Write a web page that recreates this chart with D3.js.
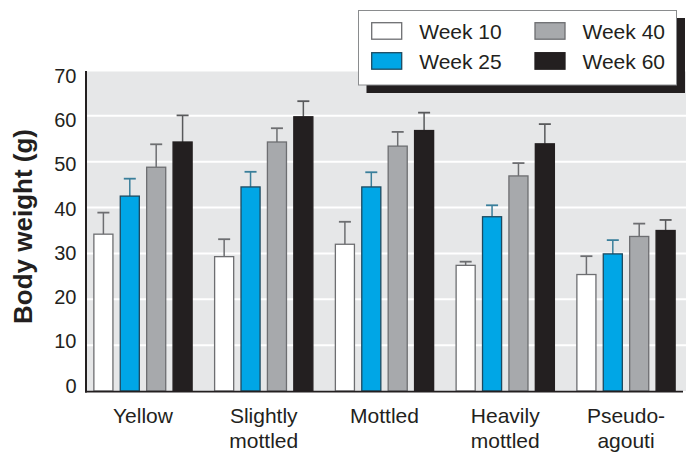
<!DOCTYPE html>
<html>
<head>
<meta charset="utf-8">
<script src="https://cdn.jsdelivr.net/npm/d3@7/dist/d3.min.js"></script>
<style>
  html, body { margin: 0; padding: 0; background: #ffffff; }
  svg { display: block; }
  text { font-family: "Liberation Sans", Arial, sans-serif; fill: #231f20; }
</style>
</head>
<body>
<svg id="chart" width="699" height="457"></svg>
<script>
// ---- Data ----
const categories = ["Yellow", "Slightly mottled", "Mottled", "Heavily mottled", "Pseudo-agouti"];
const categoryLines = [["Yellow"], ["Slightly", "mottled"], ["Mottled"], ["Heavily", "mottled"], ["Pseudo-", "agouti"]];
const seriesNames = ["Week 10", "Week 25", "Week 40", "Week 60"];
const week10 = [34.2, 29.3, 32.0, 27.4, 25.4];
const week25 = [42.5, 44.5, 44.5, 38.0, 29.9];
const week40 = [48.8, 54.3, 53.4, 46.9, 33.7];
const week60 = [54.3, 59.8, 56.8, 53.9, 35.0];
const err10 = [4.7, 3.8, 4.9, 0.8, 4.0];
const err25 = [3.8, 3.3, 3.2, 2.5, 3.0];
const err40 = [5.0, 3.0, 3.1, 2.8, 2.8];
const err60 = [5.8, 3.4, 3.9, 4.3, 2.3];
const yTicks = [0, 10, 20, 30, 40, 50, 60, 70];
const yTitle = "Body weight (g)";

const seriesValues = [week10, week25, week40, week60];
const seriesErrors = [err10, err25, err40, err60];
const fills = ["#ffffff", "#00a6e6", "#a7a9ac", "#231f20"];
const strokes = ["#6d6e71", "#1d4a60", "#6d6e71", "#231f20"];
const errColors = ["#6d6e71", "#3a7f9b", "#6d6e71", "#58595b"];

const svg = d3.select("#chart");

// ---- Scales ----
const plotLeft = 86, plotRight = 683, plotTop = 70, plotBottom = 391;
const y = d3.scaleLinear().domain([0, 70]).range([plotBottom, plotTop]);
const yLab = d3.scaleLinear().domain([0, 70]).range([385.5, 75.8]);
const x0 = d3.scaleBand().domain(categories).range([plotLeft, plotRight])
  .paddingInner(0.178).paddingOuter(0.061);
const x1 = d3.scaleBand().domain(seriesNames).range([0, x0.bandwidth()])
  .paddingInner(0.24).paddingOuter(0);

// ---- Plot background ----
svg.append("rect")
  .attr("x", plotLeft).attr("y", 71.5)
  .attr("width", 686 - plotLeft).attr("height", plotBottom - 71.5)
  .attr("fill", "#e6e7e8");

// gridlines
svg.append("g").selectAll("line")
  .data(yTicks.filter(d => d > 0 && d < 70))
  .join("line")
  .attr("x1", plotLeft).attr("x2", 686)
  .attr("y1", d => y(d)).attr("y2", d => y(d))
  .attr("stroke", "#ffffff").attr("stroke-width", 2);

// ---- Bars ----
const rows = [];
categories.forEach((c, i) => {
  seriesNames.forEach((s, j) => {
    rows.push({ cat: c, ser: s, j: j, v: seriesValues[j][i], e: seriesErrors[j][i] });
  });
});

const gBars = svg.append("g");
rows.forEach(d => {
  const cx = x0(d.cat) + x1(d.ser) + x1.bandwidth() / 2;
  gBars.append("line")
    .attr("x1", cx).attr("x2", cx)
    .attr("y1", y(d.v)).attr("y2", y(d.v + d.e))
    .attr("stroke", errColors[d.j]).attr("stroke-width", 1.5);
  gBars.append("line")
    .attr("x1", cx - 6).attr("x2", cx + 6)
    .attr("y1", y(d.v + d.e)).attr("y2", y(d.v + d.e))
    .attr("stroke", errColors[d.j]).attr("stroke-width", 1.8);
});
gBars.selectAll("rect")
  .data(rows)
  .join("rect")
  .attr("x", d => x0(d.cat) + x1(d.ser) + 0.5)
  .attr("y", d => y(d.v))
  .attr("width", x1.bandwidth() - 1)
  .attr("height", d => y(0) - y(d.v))
  .attr("fill", d => fills[d.j])
  .attr("stroke", d => strokes[d.j])
  .attr("stroke-width", 1.3);

// ---- Axes lines ----
svg.append("line")
  .attr("x1", plotLeft).attr("x2", plotLeft)
  .attr("y1", 71).attr("y2", 392.5)
  .attr("stroke", "#231f20").attr("stroke-width", 2);
svg.append("line")
  .attr("x1", plotLeft - 1).attr("x2", plotRight)
  .attr("y1", 391.7).attr("y2", 391.7)
  .attr("stroke", "#231f20").attr("stroke-width", 1.8);

// ---- Y tick labels ----
svg.append("g").selectAll("text")
  .data(yTicks)
  .join("text")
  .attr("x", 76.5)
  .attr("y", d => yLab(d))
  .attr("dy", "0.36em")
  .attr("text-anchor", "end")
  .attr("font-size", 20)
  .text(d => d);

// ---- Y title ----
svg.append("text")
  .attr("transform", "translate(32,226.5) rotate(-90)")
  .attr("text-anchor", "middle")
  .attr("font-size", 26)
  .attr("font-weight", "bold")
  .text(yTitle);

// ---- X labels ----
const gx = svg.append("g");
categories.forEach((c, i) => {
  const cx = x0(c) + x0.bandwidth() / 2;
  categoryLines[i].forEach((line, k) => {
    gx.append("text")
      .attr("x", cx)
      .attr("y", 423.3 + k * 25)
      .attr("text-anchor", "middle")
      .attr("font-size", 21)
      .text(line);
  });
});

// ---- Legend ----
const lg = svg.append("g");
lg.append("rect").attr("x", 366.5).attr("y", 18).attr("width", 318.5).attr("height", 75)
  .attr("fill", "#231f20");
lg.append("rect").attr("x", 358.5).attr("y", 10.5).attr("width", 318).attr("height", 74.5)
  .attr("fill", "#ffffff").attr("stroke", "#8a8c8e").attr("stroke-width", 1);
const legPos = [[371.7, 22.7], [371.7, 52.7], [535, 22.7], [535, 52.7]];
seriesNames.forEach((s, j) => {
  const [lx, ly] = legPos[j];
  lg.append("rect").attr("x", lx).attr("y", ly).attr("width", 30).attr("height", 16.5)
    .attr("fill", fills[j]).attr("stroke", strokes[j]).attr("stroke-width", 1.3);
  lg.append("text").attr("x", lx + 47.5).attr("y", ly + 15.8)
    .attr("font-size", 21).text(s);
});
</script>
</body>
</html>
